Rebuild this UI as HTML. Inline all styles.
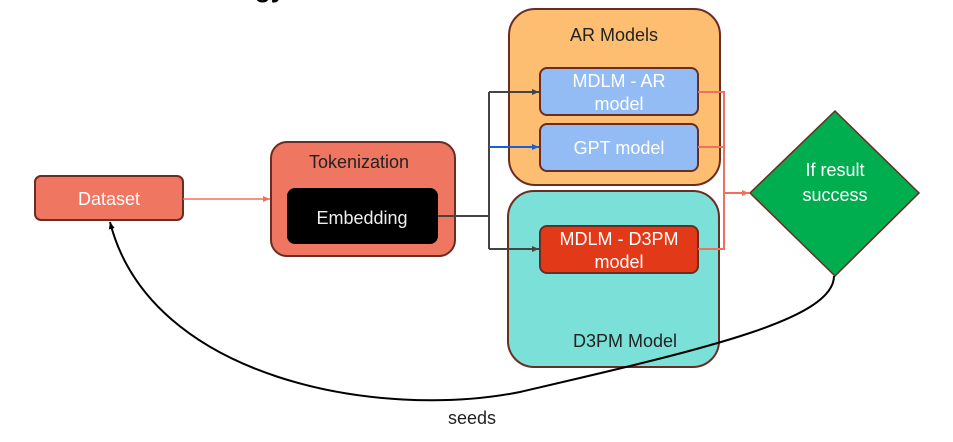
<!DOCTYPE html>
<html><head><style>body{margin:0;background:#fff}svg{display:block}text{font-family:"Liberation Sans",sans-serif}</style></head><body>
<svg width="953" height="442" viewBox="0 0 953 442">
<defs>
<marker id="ab" markerWidth="8" markerHeight="8" refX="7" refY="4" orient="auto" markerUnits="userSpaceOnUse"><path d="M0,1 L7,4 L0,7z" fill="#444"/></marker>
<marker id="ablue" markerWidth="8" markerHeight="8" refX="7" refY="4" orient="auto" markerUnits="userSpaceOnUse"><path d="M0,1 L7,4 L0,7z" fill="#1a5fd6"/></marker>
<marker id="ar" markerWidth="8" markerHeight="8" refX="7" refY="4" orient="auto" markerUnits="userSpaceOnUse"><path d="M0,1 L7,4 L0,7z" fill="#ee705e"/></marker>
<marker id="ak" markerWidth="8" markerHeight="8" refX="7" refY="4" orient="auto" markerUnits="userSpaceOnUse"><path d="M0,1 L7,4 L0,7z" fill="#000"/></marker>
</defs>
<text x="270" y="-3" font-size="26" font-weight="bold" fill="#000" text-anchor="middle">gy</text>
<rect x="509" y="9" width="211" height="176" rx="26" fill="#fdbe72" stroke="#6b2c22" stroke-width="2"/>
<rect x="508" y="191" width="211" height="176" rx="26" fill="#7be1d8" stroke="#6b2c22" stroke-width="2"/>
<text x="614" y="41" font-size="18" text-anchor="middle" fill="#222">AR Models</text>
<text x="625" y="347" font-size="18" text-anchor="middle" fill="#222">D3PM Model</text>
<rect x="35" y="176" width="148" height="44" rx="6" fill="#ef7661" stroke="#6b2c22" stroke-width="2"/>
<text x="109" y="205" font-size="18" text-anchor="middle" fill="#fff">Dataset</text>
<rect x="271" y="142" width="184" height="114" rx="16" fill="#ef7661" stroke="#6b2c22" stroke-width="2"/>
<text x="359" y="168" font-size="18" text-anchor="middle" fill="#222">Tokenization</text>
<rect x="287" y="188" width="151" height="56" rx="8" fill="#000"/>
<text x="362" y="224" font-size="18" text-anchor="middle" fill="#eee">Embedding</text>
<rect x="540" y="68" width="158" height="47" rx="7" fill="#93bcf5" stroke="#6b2c22" stroke-width="2"/>
<text x="619" y="87" font-size="18" text-anchor="middle" fill="#fff">MDLM  - AR</text>
<text x="619" y="110" font-size="18" text-anchor="middle" fill="#fff">model</text>
<rect x="540" y="124" width="158" height="47" rx="7" fill="#93bcf5" stroke="#6b2c22" stroke-width="2"/>
<text x="619" y="154" font-size="18" text-anchor="middle" fill="#fff">GPT model</text>
<rect x="540" y="226" width="158" height="47" rx="7" fill="#e23a18" stroke="#6b2c22" stroke-width="2"/>
<text x="619" y="245" font-size="18" text-anchor="middle" fill="#fff">MDLM - D3PM</text>
<text x="619" y="268" font-size="18" text-anchor="middle" fill="#fff">model</text>
<polygon points="835,111 919,193 835,276 750,193" fill="#00ad4f" stroke="#6b2c22" stroke-width="1.5"/>
<text x="835" y="176" font-size="18" text-anchor="middle" fill="#fff">If result</text>
<text x="835" y="201" font-size="18" text-anchor="middle" fill="#fff">success</text>
<line x1="183" y1="199" x2="270" y2="199" stroke="#ee705e" stroke-width="1.5" marker-end="url(#ar)"/>
<path d="M438,216 H489 M489,92 V249" stroke="#444" stroke-width="2" fill="none"/>
<line x1="489" y1="92" x2="539" y2="92" stroke="#444" stroke-width="2" marker-end="url(#ab)"/>
<line x1="489" y1="249" x2="539" y2="249" stroke="#444" stroke-width="2" marker-end="url(#ab)"/>
<line x1="489" y1="147" x2="539" y2="147" stroke="#1a5fd6" stroke-width="2" marker-end="url(#ablue)"/>
<path d="M698,92 H724 M698,147 H724 M698,249 H724 M724,91 V250" stroke="#ee705e" stroke-width="2" fill="none"/>
<line x1="724" y1="193" x2="749" y2="193" stroke="#ee705e" stroke-width="2" marker-end="url(#ar)"/>
<path d="M834,276 C834,320 700,350 520,392 C380,420 150,380 110,222" stroke="#000" stroke-width="2" fill="none" marker-end="url(#ak)"/>
<text x="472" y="424" font-size="18" text-anchor="middle" fill="#222">seeds</text>
</svg>
</body></html>
